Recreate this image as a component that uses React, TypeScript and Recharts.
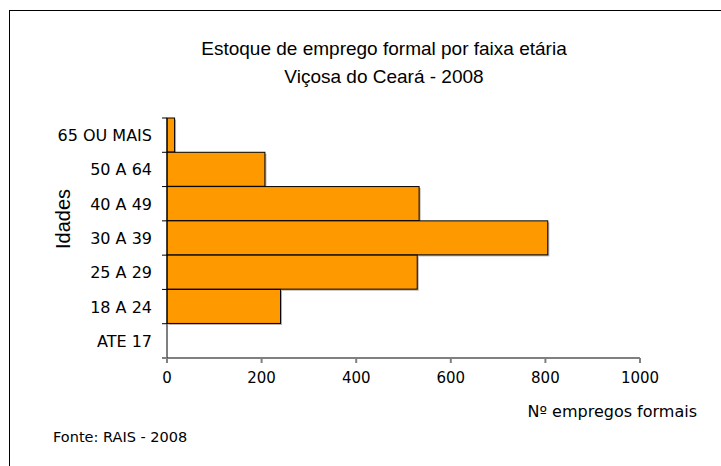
import { Bar, BarChart, Label, XAxis, YAxis } from "recharts";

const AGE_GROUPS = ["65 OU MAIS", "50 A 64", "40 A 49", "30 A 39", "25 A 29", "18 A 24", "ATE 17"];
const JOBS = [16, 207, 533, 805, 529, 240, 0];
const X_TICKS = [0, 200, 400, 600, 800, 1000];

const data = AGE_GROUPS.map((faixa, i) => ({ faixa, empregos: JOBS[i] }));

const PLOT_TOP = 118;
const PLOT_HEIGHT = 240;
const BAND = PLOT_HEIGHT / AGE_GROUPS.length;

const SANS = "'DejaVu Sans', sans-serif";
const ARIAL = "'Liberation Sans', Arial, sans-serif";

function AgeTick(props: any) {
  const { x, y, payload, index } = props;
  const last = index === AGE_GROUPS.length - 1;
  return (
    <g>
      <line x1={x - 5} x2={x} y1={y - BAND / 2} y2={y - BAND / 2} stroke="#000" />
      {last && (
        <line x1={x - 5} x2={x} y1={y + BAND / 2} y2={y + BAND / 2} stroke="#808080" strokeWidth={2} />
      )}
      <text x={x - 15} y={y} dy={6} textAnchor="end" fill="#000" fontSize={16} fontFamily={SANS}>
        {payload.value}
      </text>
    </g>
  );
}

function ShadowBar(props: any) {
  const { x, y, width, height } = props;
  if (!width || width <= 0) return null;
  return (
    <g>
      <rect x={x + 1.5} y={y + 1.5} width={width} height={height} fill="#7a7a7a" opacity={0.6} />
      <rect x={x} y={y} width={width} height={height} fill="#FF9900" stroke="#000" strokeWidth={1} />
    </g>
  );
}

export default function App() {
  return (
    <div style={{ position: "relative", width: 721, height: 466, background: "#fff" }}>
      <style>{"body{margin:0}"}</style>
      <div
        style={{
          position: "absolute",
          left: 9,
          top: 10,
          width: 712,
          height: 456,
          borderTop: "1px solid #000",
          borderLeft: "1px solid #000",
        }}
      />
      <div
        style={{
          position: "absolute",
          left: 0,
          top: 35,
          width: 768,
          textAlign: "center",
          fontFamily: ARIAL,
          fontSize: 19,
          lineHeight: "28px",
          color: "#000",
        }}
      >
        Estoque de emprego formal por faixa etária
        <br />
        Viçosa do Ceará - 2008
      </div>
      <div
        style={{
          position: "absolute",
          left: 53,
          top: 429,
          fontFamily: SANS,
          fontSize: 14.5,
          color: "#000",
          whiteSpace: "nowrap",
        }}
      >
        Fonte: RAIS - 2008
      </div>
      <BarChart
        width={721}
        height={466}
        layout="vertical"
        data={data}
        margin={{ top: PLOT_TOP, right: 81, bottom: 78, left: 47 }}
        barCategoryGap={0}
        style={{ position: "absolute", left: 0, top: 0 }}
      >
        <XAxis
          type="number"
          domain={[0, 1000]}
          ticks={X_TICKS}
          height={30}
          axisLine={{ stroke: "#808080", strokeWidth: 2 }}
          tickLine={{ stroke: "#808080", strokeWidth: 2 }}
          tickSize={5}
          tickMargin={9}
          tick={{ fill: "#000", fontSize: 15, fontFamily: SANS }}
        >
          <Label
            content={({ viewBox }: any) => (
              <text
                x={viewBox.x + viewBox.width + 57}
                y={viewBox.y + 59}
                textAnchor="end"
                fill="#000"
                fontSize={16}
                fontFamily={SANS}
              >
                Nº empregos formais
              </text>
            )}
          />
        </XAxis>
        <YAxis
          type="category"
          dataKey="faixa"
          width={120}
          axisLine={{ stroke: "#000", strokeWidth: 1 }}
          tickLine={false}
          tickSize={0}
          tickMargin={0}
          interval={0}
          tick={<AgeTick />}
        >
          <Label
            content={() => (
              <text
                x={70}
                y={219}
                transform="rotate(-90 70 219)"
                textAnchor="middle"
                fill="#000"
                fontSize={20}
                fontFamily={ARIAL}
              >
                Idades
              </text>
            )}
          />
        </YAxis>
        <Bar dataKey="empregos" shape={<ShadowBar />} isAnimationActive={false} />
      </BarChart>
    </div>
  );
}
